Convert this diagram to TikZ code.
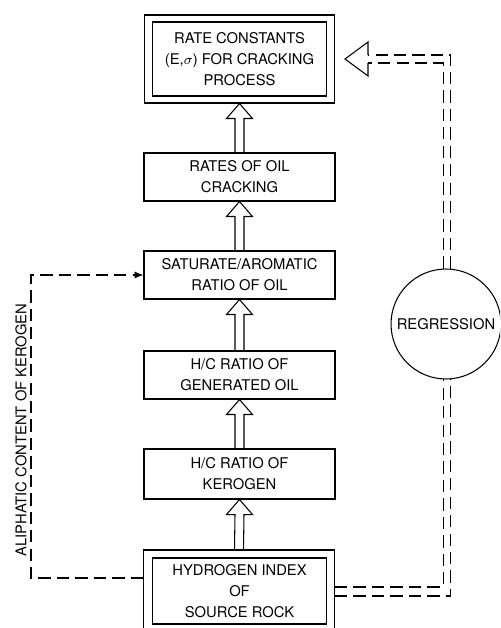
\documentclass[tikz,border=0pt]{standalone}
\usepackage{fontspec}
\setmainfont{TeX Gyre Heros}
\usetikzlibrary{positioning,arrows.meta,calc}
\newcommand{\hollowarrow}[2]{%
  \draw ($(#1)+(-4.5,0)$) -- ($(#2)+(-4.5,15)$) -- ($(#2)+(-13,15)$) -- (#2)
    -- ($(#2)+(13,15)$) -- ($(#2)+(4.5,15)$) -- ($(#1)+(4.5,0)$);}

\begin{document}
\begin{tikzpicture}[x=0.02cm,y=-0.02cm,line width=0.6pt,
  every node/.style={font=\fontsize{8.4}{12}\selectfont},
  box/.style={draw,align=center,inner sep=0pt,minimum width=3.82cm,minimum height=0.96cm},
  feedback/.style={dash pattern=on 7pt off 3.5pt}]
\useasboundingbox (0,0) rectangle (500,628);
\clip (0,0) rectangle (500,628);
\node[box,minimum width=3.48cm,minimum height=1.48cm] (rate) at (239.5,59) {RATE CONSTANTS\\(E,$\sigma$) FOR CRACKING\\PROCESS};
\node[box,minimum width=3.8cm,minimum height=1.76cm] (rateouter) at (239.5,59) {};
\node[box] (cracking) at (239.5,177) {RATES OF OIL\\CRACKING};
\node[box] (satarom) at (239.5,275) {SATURATE/AROMATIC\\RATIO OF OIL};
\node[box] (hcoil) at (239.5,375) {H/C RATIO OF\\GENERATED OIL};
\node[box,minimum height=1cm] (hcker) at (239.5,474) {H/C RATIO OF\\KEROGEN};
\node[box,minimum width=3.48cm,minimum height=1.32cm] (hindex) at (239.5,591) {HYDROGEN INDEX\\OF\\SOURCE ROCK};
\node[box,minimum height=1.68cm] (hindexouter) at (239,592) {};
\hollowarrow{cracking.north}{rateouter.south}
\hollowarrow{satarom.north}{cracking.south}
\hollowarrow{hcoil.north}{satarom.south}
\hollowarrow{hcker.north}{hcoil.south}
\hollowarrow{hindexouter.north}{hcker.south}
\coordinate (lturn) at (31,578);
\draw[feedback,-{Latex[length=5pt,width=4pt]}] (hindexouter.west |- lturn) -- (lturn) |- (satarom.west);
\node[rotate=90] (aliphatic) at (21,430) {ALIPHATIC CONTENT OF KEROGEN};
\node[draw,circle,inner sep=0pt,minimum size=2.2cm] (regression) at (446,324) {REGRESSION};
\coordinate (rin) at (443,587);
\coordinate (rout) at (451,596);
\coordinate (backtip) at ($(rateouter.east)+(10,0)$);
\draw[feedback] (hindexouter.east |- rin) -| (regression.-93);
\draw[feedback] (hindexouter.east |- rout) -| (regression.-85);
\draw[feedback] (regression.93) |- ($(backtip)+(23,4)$);
\draw[feedback] (regression.85) |- ($(backtip)+(23,-4)$);
\draw ($(backtip)+(23,-4)$) -- ($(backtip)+(23,-17)$) -- (backtip) -- ($(backtip)+(23,17)$) -- ($(backtip)+(23,4)$);
\end{tikzpicture}
\end{document}
